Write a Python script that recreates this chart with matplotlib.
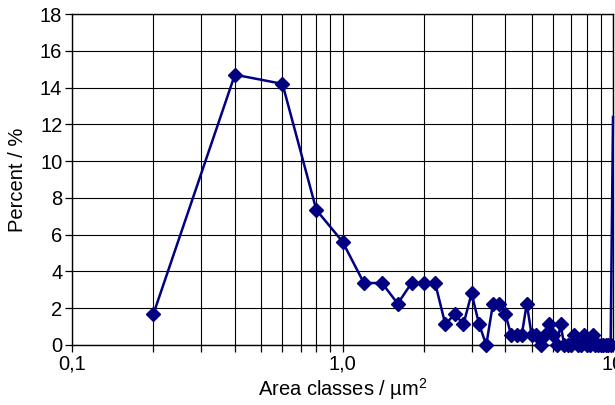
import matplotlib
matplotlib.use("Agg")
import matplotlib.pyplot as plt
from matplotlib.ticker import FixedLocator, FixedFormatter, NullFormatter

plt.rcParams['font.family'] = ['Liberation Sans', 'DejaVu Sans']
plt.rcParams['mathtext.fontset'] = 'custom'
plt.rcParams['mathtext.rm'] = 'Liberation Sans'
plt.rcParams['mathtext.it'] = 'Liberation Sans'
plt.rcParams['mathtext.default'] = 'regular'

area_classes = [0.2, 0.4, 0.6, 0.8, 1.0, 1.2, 1.4, 1.6, 1.8, 2.0,
                2.2, 2.4, 2.6, 2.8, 3.0, 3.2, 3.4, 3.6, 3.8, 4.0,
                4.2, 4.4, 4.6, 4.8, 5.0, 5.2, 5.4, 5.6, 5.8, 6.0,
                6.2, 6.4, 6.6, 6.8, 7.0, 7.2, 7.4, 7.6, 7.8, 8.0,
                8.2, 8.4, 8.6, 8.8, 9.0, 9.2, 9.4, 9.6, 9.8, 10.0]
percent = [1.69, 14.7, 14.2, 7.35, 5.62, 3.37, 3.37, 2.25, 3.37, 3.37,
           3.37, 1.12, 1.69, 1.12, 2.81, 1.12, 0.0, 2.25, 2.25, 1.69,
           0.56, 0.56, 0.56, 2.25, 0.56, 0.56, 0.0, 0.56, 1.12, 0.56,
           0.0, 1.12, 0.0, 0.0, 0.0, 0.56, 0.0, 0.0, 0.56, 0.0,
           0.0, 0.56, 0.0, 0.0, 0.0, 0.0, 0.0, 0.0, 0.0, 12.4]

y_ticks = [0, 2, 4, 6, 8, 10, 12, 14, 16, 18]
x_major = [0.1, 1.0, 10.0]
x_major_labels = ["0,1", "1,0", "10"]
x_minor = [0.2, 0.3, 0.4, 0.5, 0.6, 0.7, 0.8, 0.9,
           2, 3, 4, 5, 6, 7, 8, 9]

fig = plt.figure(figsize=(6.15, 4.05), dpi=100)
ax = fig.add_axes([72/615, 1 - 345/405, (613 - 72)/615, (345 - 14)/405])

ax.set_xscale('log')
ax.set_xlim(0.1, 10)
ax.set_ylim(0, 18)

ax.xaxis.set_major_locator(FixedLocator(x_major))
ax.xaxis.set_major_formatter(FixedFormatter(x_major_labels))
ax.xaxis.set_minor_locator(FixedLocator(x_minor))
ax.xaxis.set_minor_formatter(NullFormatter())
ax.set_yticks(y_ticks)
ax.set_yticklabels([str(v) for v in y_ticks])

ax.grid(True, which='both', axis='x', color='black', linewidth=0.8)
ax.grid(True, which='major', axis='y', color='black', linewidth=0.8)
ax.set_axisbelow(True)

ax.tick_params(axis='both', which='both', direction='out', color='black',
               labelsize=14.5, width=0.9)
ax.tick_params(axis='x', which='major', length=5, pad=2)
ax.tick_params(axis='x', which='minor', length=5)
ax.tick_params(axis='y', which='major', length=5, pad=2)

for s in ax.spines.values():
    s.set_color('black')
    s.set_linewidth(1.0)

n = len(area_classes)
ax.plot(area_classes, percent, color='#000080', linewidth=1.8,
        marker='D', markersize=6.8, markerfacecolor='#000080',
        markeredgecolor='#000080', markevery=list(range(n - 1)),
        clip_on=False, zorder=5)

ax.set_xlabel("Area classes / µm$^{2}$", fontsize=14.5, labelpad=2)
ax.set_ylabel("Percent / %", fontsize=14.5, labelpad=9)

fig.savefig("out.png", dpi=100)
